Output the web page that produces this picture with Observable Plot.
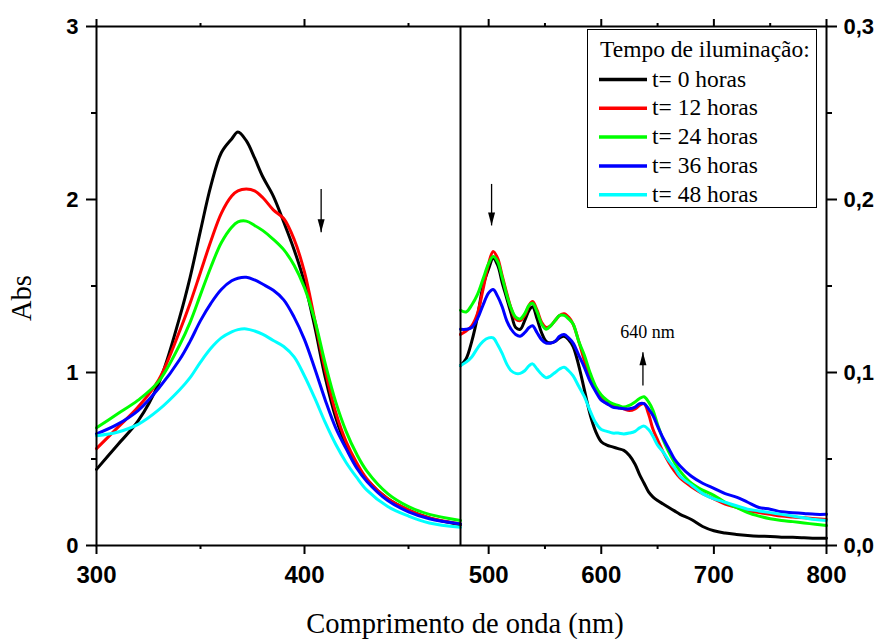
<!DOCTYPE html>
<html><head><meta charset="utf-8">
<script src="https://cdn.jsdelivr.net/npm/d3@7"></script>
<script src="https://cdn.jsdelivr.net/npm/@observablehq/plot@0.6"></script>
<style>
body{margin:0;background:#fff;}
#chart{position:relative;width:880px;height:639px;}
</style></head><body><div id="chart"></div>
<script>
const seriesNames = ["t= 0 horas","t= 12 horas","t= 24 horas","t= 36 horas","t= 48 horas"];
const seriesColors = ["#000000","#ff0000","#00ff00","#0000ff","#00ffff"];
const legendTitle = "Tempo de iluminação:";
const xTitle = "Comprimento de onda (nm)";
const yTitle = "Abs";

// Left panel (300–475 nm), left axis units
const leftNm = [300,310,320,330,340,345,350,355,360,365,368,372,376,380,385,390,395,400,405,410,415,420,425,430,440,450,460,475];
const leftT0  = [0.44,0.58,0.72,0.94,1.32,1.55,1.82,2.08,2.27,2.35,2.39,2.34,2.24,2.13,2.02,1.87,1.71,1.52,1.26,0.97,0.74,0.58,0.47,0.38,0.27,0.205,0.16,0.12];
const leftT12 = [0.56,0.68,0.80,0.96,1.24,1.40,1.58,1.76,1.92,2.02,2.05,2.06,2.05,2.01,1.94,1.89,1.77,1.58,1.30,1.01,0.77,0.60,0.48,0.385,0.27,0.205,0.16,0.125];
const leftT24 = [0.68,0.76,0.84,0.95,1.16,1.29,1.45,1.61,1.75,1.84,1.87,1.875,1.85,1.82,1.77,1.71,1.62,1.49,1.30,1.05,0.83,0.66,0.53,0.43,0.30,0.225,0.18,0.145];
const leftT36 = [0.645,0.70,0.78,0.91,1.075,1.18,1.30,1.40,1.48,1.53,1.545,1.55,1.535,1.51,1.475,1.42,1.32,1.19,1.02,0.84,0.68,0.56,0.45,0.37,0.26,0.195,0.155,0.125];
const leftT48 = [0.635,0.655,0.70,0.785,0.90,0.97,1.06,1.14,1.20,1.235,1.248,1.252,1.24,1.22,1.185,1.15,1.09,0.98,0.85,0.71,0.585,0.48,0.395,0.32,0.225,0.17,0.13,0.105];

// Right panel (475–800 nm), right axis units
const rightNm = [475,480,485,490,495,500,504,508,512,516,520,524,528,532,536,539,543,547,551,555,559,563,567,571,575,580,585,590,595,600,605,610,615,620,625,630,634,638,642,646,650,655,660,665,670,680,690,700,710,720,730,740,750,760,770,780,790,800];
const rightT0  = [0.104,0.108,0.118,0.132,0.150,0.160,0.166,0.162,0.152,0.143,0.134,0.126,0.125,0.130,0.136,0.138,0.131,0.123,0.118,0.117,0.118,0.120,0.121,0.119,0.115,0.104,0.090,0.076,0.066,0.060,0.058,0.057,0.056,0.055,0.052,0.047,0.041,0.036,0.031,0.028,0.026,0.024,0.022,0.020,0.018,0.015,0.011,0.0085,0.0072,0.0064,0.0058,0.0054,0.0052,0.0048,0.0047,0.0045,0.0042,0.0042];
const rightT12 = [0.122,0.124,0.127,0.134,0.148,0.163,0.170,0.166,0.156,0.146,0.137,0.131,0.130,0.133,0.139,0.141,0.136,0.129,0.126,0.127,0.130,0.133,0.134,0.132,0.128,0.118,0.107,0.097,0.090,0.085,0.082,0.081,0.080,0.079,0.078,0.079,0.081,0.082,0.076,0.067,0.061,0.054,0.048,0.043,0.039,0.034,0.030,0.027,0.024,0.022,0.020,0.019,0.018,0.017,0.0165,0.016,0.0155,0.015];
const rightT24 = [0.136,0.135,0.139,0.145,0.154,0.163,0.167,0.164,0.155,0.145,0.137,0.132,0.131,0.134,0.139,0.140,0.135,0.128,0.125,0.127,0.130,0.133,0.133,0.131,0.128,0.118,0.110,0.100,0.092,0.087,0.084,0.082,0.081,0.080,0.081,0.083,0.085,0.086,0.083,0.078,0.070,0.061,0.054,0.048,0.043,0.036,0.032,0.029,0.025,0.022,0.019,0.017,0.0155,0.0145,0.0138,0.013,0.0123,0.0115];
const rightT36 = [0.125,0.125,0.126,0.131,0.139,0.146,0.148,0.144,0.138,0.130,0.125,0.122,0.121,0.123,0.126,0.127,0.123,0.119,0.117,0.117,0.118,0.121,0.122,0.120,0.117,0.110,0.103,0.095,0.089,0.084,0.082,0.080,0.0795,0.079,0.079,0.080,0.082,0.082,0.079,0.075,0.069,0.062,0.056,0.050,0.046,0.040,0.036,0.033,0.030,0.028,0.025,0.022,0.021,0.0195,0.019,0.0185,0.018,0.018];
const rightT48 = [0.104,0.106,0.109,0.114,0.118,0.120,0.120,0.116,0.111,0.105,0.101,0.0995,0.0995,0.101,0.104,0.105,0.102,0.099,0.097,0.098,0.100,0.102,0.103,0.101,0.098,0.092,0.086,0.078,0.071,0.067,0.066,0.065,0.065,0.0645,0.065,0.066,0.068,0.069,0.067,0.063,0.058,0.054,0.049,0.045,0.040,0.035,0.030,0.027,0.025,0.023,0.021,0.020,0.019,0.018,0.017,0.016,0.015,0.0145];

const xTicks = [300,400,500,600,700,800];
const xMinorTicks = [350,450,550,650,750];
const leftYTicks = [0,1,2,3];
const rightYTicks = [0,0.1,0.2,0.3];
const minorYTicks = [0.5,1.5,2.5];
const breakNm = 475;
const rightFactor = 10;

// annotations (arrows and label)
const arrowNm = [408, 502.6, 637];
const arrowFrom = [2.06, 0.209, 0.0925];
const arrowTo = [1.81, 0.185, 0.1117];
const arrowPanel = ["L","R","R"];
const noteText = ["640 nm"];
const noteNm = [641];
const noteVal = [0.123];

const leftSeries = [leftT0,leftT12,leftT24,leftT36,leftT48];
const rightSeries = [rightT0,rightT12,rightT24,rightT36,rightT48];
const rows = [];
seriesNames.forEach((name,i)=>{
  leftNm.forEach((nm,j)=>rows.push({nm, abs:leftSeries[i][j], series:name, key:name+"|L"}));
  rightNm.forEach((nm,j)=>rows.push({nm, abs:rightSeries[i][j]*rightFactor, series:name, key:name+"|R"}));
});
const arrows = arrowNm.map((nm,i)=>{
  const f = arrowPanel[i]==="R" ? rightFactor : 1;
  return {nm, from: arrowFrom[i]*f, to: arrowTo[i]*f, up: arrowTo[i] > arrowFrom[i]};
});
const notes = noteText.map((t,i)=>({t, nm: noteNm[i], val: noteVal[i]*rightFactor}));

const arrowHead = {draw(ctx){ ctx.moveTo(0,0); ctx.lineTo(-3.5,-13); ctx.lineTo(3.5,-13); ctx.closePath(); }};
const sans = "'Liberation Sans', Arial, sans-serif";
const serif = "'Liberation Serif', 'Times New Roman', serif";
const blank = () => "";

const plot = Plot.plot({
  width: 880, height: 639,
  marginTop: 26, marginRight: 54, marginBottom: 94, marginLeft: 96,
  style: {fontFamily: sans, background: "white"},
  x: {type: "linear", domain: [300, breakNm, 800], range: [96, 460, 826], label: null},
  y: {domain: [0, 3], label: null},
  color: {domain: seriesNames, range: seriesColors},
  marks: [
    Plot.line(rows, {x:"nm", y:"abs", z:"key", stroke:"series", strokeWidth:3, curve:"catmull-rom"}),
    Plot.frame({strokeWidth:2}),
    Plot.ruleX([breakNm], {strokeWidth:2}),
    Plot.axisX({anchor:"bottom", ticks:xTicks, tickSize:9, tickPadding:11, strokeWidth:2, fontSize:24, fontWeight:"bold", fontFamily:sans, label:null}),
    Plot.axisX({anchor:"bottom", ticks:xMinorTicks, tickSize:4, strokeWidth:2, tickFormat:blank, label:null}),
    Plot.axisX({anchor:"top", ticks:xTicks, tickSize:8, strokeWidth:2, tickFormat:blank, label:null}),
    Plot.axisX({anchor:"top", ticks:xMinorTicks, tickSize:4, strokeWidth:2, tickFormat:blank, label:null}),
    Plot.axisY({anchor:"left", ticks:leftYTicks, tickSize:10, tickPadding:8, strokeWidth:2, fontSize:22, fontWeight:"bold", fontFamily:sans, tickFormat:d=>String(d), label:null}),
    Plot.axisY({anchor:"left", ticks:minorYTicks, tickSize:5, strokeWidth:2, tickFormat:blank, label:null}),
    Plot.axisY({anchor:"right", ticks:rightYTicks.map(v=>v*rightFactor), tickSize:10, tickPadding:7, strokeWidth:2, fontSize:22, fontWeight:"bold", fontFamily:sans, tickFormat:d=>(d/rightFactor).toFixed(1).replace(".",","), label:null}),
    Plot.axisY({anchor:"right", ticks:minorYTicks, tickSize:5, strokeWidth:2, tickFormat:blank, label:null}),
    Plot.link(arrows, {x1:"nm", x2:"nm", y1:"from", y2:"to", stroke:"black", strokeWidth:1.3}),
    Plot.dot(arrows, {x:"nm", y:"to", symbol:arrowHead, r:4, fill:"black", stroke:"none", rotate:d=>d.up?180:0}),
    Plot.text(notes, {x:"nm", y:"val", text:"t", fontSize:18, fontFamily:serif, fill:"black"})
  ]
});

const svg = d3.select(plot);
function addText(sel, txt, size, anchor){
  return sel.append("text").style("font-family",serif).style("font-size",size+"px")
    .style("text-anchor",anchor).style("font-weight","normal").attr("fill","black").text(txt);
}
addText(svg, xTitle, 28.5, "middle").attr("x",465).attr("y",633);
addText(svg, yTitle, 28.5, "middle").attr("transform","translate(31,298) rotate(-90)");
const lg = svg.append("g");
lg.append("rect").attr("x",587.5).attr("y",29.5).attr("width",229).attr("height",178)
  .attr("fill","white").attr("stroke","black").attr("stroke-width",1);
addText(lg, legendTitle, 23.5, "start").attr("x",600).attr("y",57);
seriesNames.forEach((n,i)=>{
  const y = 79.5 + i*28.8;
  lg.append("line").attr("x1",599).attr("x2",647).attr("y1",y).attr("y2",y).attr("stroke",seriesColors[i]).attr("stroke-width",3.5);
  addText(lg, n, 23.5, "start").attr("x",652).attr("y",y+7);
});
document.getElementById("chart").appendChild(plot);
</script>
</body></html>
